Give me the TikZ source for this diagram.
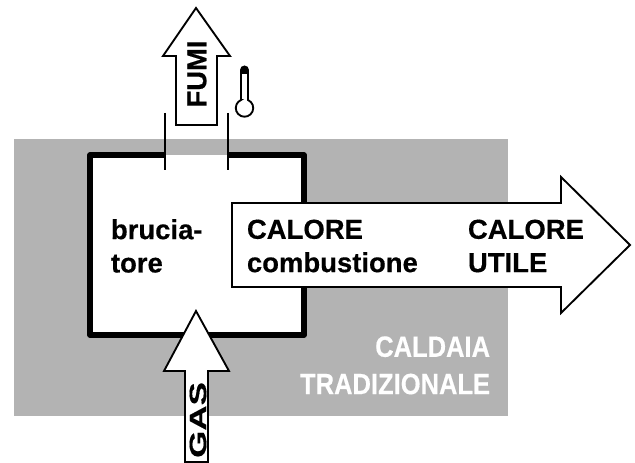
\documentclass[tikz,border=0pt]{standalone}
\usepackage{fontspec}
\setmainfont[BoldFeatures={FakeBold=0.4}]{Liberation Sans}
\tikzset{every picture/.style={line width=0.75pt}}
\tikzset{
  flowarrow/.style={draw=black,fill=white,line width=1.4pt,line join=miter},
  boxlabel/.style={font=\fontsize{20.6}{25}\selectfont\bfseries,align=left,anchor=west},
  arrowlabel/.style={font=\fontsize{20.5}{20}\selectfont\bfseries,rotate=90},
  greylabel/.style={font=\fontsize{22}{28}\selectfont\bfseries,text=white,anchor=east}
}
\definecolor{caldaiagrey}{RGB}{179,179,179}

\begin{document}
\begin{tikzpicture}[x=0.75pt,y=0.75pt,yscale=-1,xscale=1]
	\useasboundingbox (0,0) rectangle (635,463);

	%Shape: Rectangle
	\fill [caldaiagrey] (14,139) rectangle (508,416);
	%Shape: Burner box
	\fill [white] (90,155) rectangle (304,335);
	\draw [line width=4.2pt,line join=round] (165,155) -- (90,155) -- (90,335) -- (304,335) -- (304,155) -- (228,155);
	%Straight Lines
	\draw [line width=1.1pt] (165,113) -- (165,170);
	\draw [line width=1.1pt] (228,113) -- (228,170);

	%Shape: Right Arrow
	\draw [flowarrow] (232,203) -- (561,203) -- (561,177) -- (630,245) -- (561,313) -- (561,287) -- (232,287) -- cycle;
	%Shape: Up Arrow
	\draw [flowarrow] (176,125) -- (176,56) -- (163,56) -- (196,8) -- (230,56) -- (217,56) -- (217,125) -- cycle;
	%Shape: Up Arrow
	\draw [flowarrow] (185,462) -- (185,371) -- (164,371) -- (196,311) -- (229,371) -- (208,371) -- (208,462) -- cycle;

	%Shape: Thermometer
	\draw [line width=1.4pt,fill=white] (241,100) -- (241,70) arc (180:360:3.5) -- (248,100) arc (-66.4:246.4:8.73) -- cycle;
	\fill (241,74) -- (241,70) arc (180:360:3.5) -- (248,74) -- cycle;

	% Text Node
	\node [arrowlabel] (fumi) at (197,74) {FUMI};
	% Text Node
	\node [arrowlabel] (gas) at (198,420) {\scalebox{1.28}[0.87]{GAS}};
	% Text Node
	\node [boxlabel] (bruciatore) at (106,246) {brucia-\\tore};
	% Text Node
	\node [boxlabel] (combustione) at (242,246) {CALORE\\combustione};
	% Text Node
	\node [boxlabel] (utile) at (463,246) {CALORE\\UTILE};
	% Text Node
	\node [greylabel] (caldaia) at (495,368) {\scalebox{0.87}[1]{\begin{tabular}{@{}r@{}}CALDAIA\\TRADIZIONALE\end{tabular}}};

\end{tikzpicture}
\end{document}
